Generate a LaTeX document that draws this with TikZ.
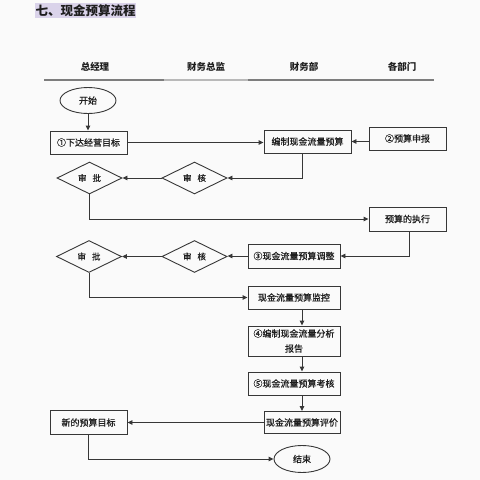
\documentclass[tikz,border=0pt]{standalone}
\usepackage{fontspec}
\setmainfont{Noto Sans CJK SC}
\newfontfamily\boxfont[FakeBold=0.8]{Noto Sans CJK SC}
\usetikzlibrary{shapes.geometric,arrows.meta}
\definecolor{linec}{RGB}{55,55,55}
\definecolor{txtc}{RGB}{30,30,30}
\definecolor{hl}{RGB}{218,211,234}
\definecolor{bgc}{RGB}{250,250,250}
\definecolor{hdark}{RGB}{125,125,125}
\definecolor{hlight}{RGB}{185,185,185}
\begin{document}
\begin{tikzpicture}[x=1pt,y=-1pt,
  boxn/.style={draw=linec, line width=0.9pt, rectangle, inner sep=0pt, minimum width=#1, minimum height=23, text=txtc, font=\boxfont\fontsize{9}{11}\selectfont},
  dia/.style={draw=linec, line width=0.9pt, diamond, inner sep=0pt, minimum width=65, minimum height=32, text=txtc, font=\boxfont\fontsize{8.5}{10}\selectfont},
  ell/.style={draw=linec, line width=0.9pt, ellipse, inner sep=0pt, minimum width=56, minimum height=26, text=txtc, font=\boxfont\fontsize{9}{11}\selectfont},
  hdr/.style={text=txtc, font=\fontsize{9.5}{11}\selectfont\bfseries},
  arr/.style={draw=linec, line width=0.9pt, -{Triangle[length=5pt,width=4.5pt]}}]
\useasboundingbox (0,0) rectangle (480,480);
\fill[bgc] (0,0) rectangle (480,480);
% title
\node[anchor=west, fill=hl, inner xsep=0.5pt, inner ysep=1pt, text=txtc, font=\fontsize{12.5}{14}\selectfont\bfseries] (title) at (35,10.5) {七、现金预算流程};
% header
\node[hdr] (h1) at (95,67) {总经理};
\node[hdr] (h2) at (206,67) {财务总监};
\node[hdr] (h3) at (304,67) {财务部};
\node[hdr] (h4) at (402,67) {各部门};
\coordinate (la) at (44,79.5);
\coordinate (lb) at (164,79.5);
\coordinate (lc) at (248,79.5);
\coordinate (ld) at (434,79.5);
\draw[hdark, line width=2pt] (la) -- (lb);
\draw[hlight, line width=2pt] (lb) -- (lc);
\draw[hdark, line width=2pt] (lc) -- (ld);
% nodes
\node[ell] (start) at (88,100.5) {开始};
\node[boxn=77] (b1) at (88.5,142.5) {①下达经营目标};
\node[boxn=87] (bud) at (307.5,141.5) {编制现金流量预算};
\node[boxn=77] (b2) at (407.5,138.5) {②预算申报};
\node[dia] (sh1) at (194.5,178) {审\hspace{6pt}核};
\node[dia] (sp1) at (89.5,178) {审\hspace{6pt}批};
\node[boxn=77, minimum height=24] (exe) at (407.5,219) {预算的执行};
\node[boxn=92, minimum height=24] (b3) at (294,256) {③现金流量预算调整};
\node[dia] (sh2) at (194.5,256.5) {审\hspace{6pt}核};
\node[dia] (sp2) at (89,256.5) {审\hspace{6pt}批};
\node[boxn=92] (mon) at (294,297.5) {现金流量预算监控};
\node[boxn=92, minimum height=30, align=center, font=\boxfont\fontsize{9}{15}\selectfont] (b4) at (294,341) {④编制现金流量分析\\报告};
\node[boxn=92] (b5) at (294,383.5) {⑤现金流量预算考核};
\node[boxn=76, minimum height=22] (eva) at (302,422.5) {现金流量预算评价};
\node[boxn=77, minimum height=24] (newt) at (88.5,422.5) {新的预算目标};
\node[ell, minimum height=27] (end) at (302,459) {结束};
% connectors
\draw[arr] (start) -- (start |- b1.north);
\draw[arr] (b1.east) -- (b1.east -| bud.west);
\draw[arr] (b2.west |- bud.east) -- (bud.east);
\draw[arr] ([xshift=-5.5pt]bud.south) |- (sh1.east);
\draw[arr] (sh1.west) -- (sp1.east);
\draw[arr] (sp1.south) |- (exe.west);
\draw[arr] ([xshift=1.5pt]exe.south) |- (b3.east);
\draw[arr] (b3.west) -- (b3.west -| sh2.east);
\draw[arr] (sh2.west) -- (sp2.east);
\draw[arr] (sp2.south) |- (mon.west);
\draw[arr] ([xshift=8pt]mon.south) -- ([xshift=8pt]b4.north);
\draw[arr] ([xshift=8pt]b4.south) -- ([xshift=8pt]b5.north);
\draw[arr] ([xshift=8pt]b5.south) -- (eva.north);
\draw[arr] (eva.west) -- (newt.east);
\draw[arr] (newt.south) |- (end.west);
\end{tikzpicture}
\end{document}
